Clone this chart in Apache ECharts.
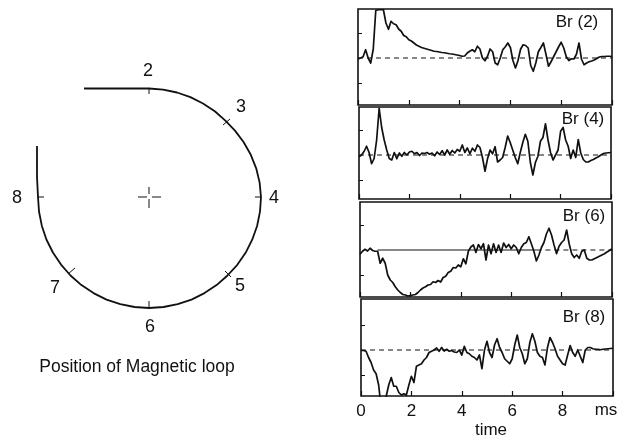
<!DOCTYPE html>
<html><head><meta charset="utf-8">
<style>html,body{margin:0;padding:0;background:#fff}#c{width:617px;height:437px}</style>
<script src="https://cdn.jsdelivr.net/npm/echarts@6/dist/echarts.min.js"></script>
</head><body><div id="c"></div>
<script>
const time=[0,.1,.2,.3,.4,.5,.6,.7,.8,.9,1,1.1,1.2,1.3,1.4,1.5,1.6,1.7,1.8,1.9,2,2.1,2.2,2.3,2.4,2.5,2.6,2.7,2.8,2.9,3,3.1,3.2,3.3,3.4,3.5,3.6,3.7,3.8,3.9,4,4.1,4.2,4.3,4.4,4.5,4.6,4.7,4.8,4.9,5,5.1,5.2,5.3,5.4,5.5,5.6,5.7,5.8,5.9,6,6.1,6.2,6.3,6.4,6.5,6.6,6.7,6.8,6.9,7,7.1,7.2,7.3,7.4,7.5,7.6,7.7,7.8,7.9,8,8.1,8.2,8.3,8.4,8.5,8.6,8.7,8.8,8.9,9,9.1,9.2,9.3,9.4,9.5,9.6,9.7,9.8,9.9,10];
const br2=[-.04,0,.05,.33,0,-.2,.35,1.9,1.93,1.93,1.93,1.4,1.15,1.47,1.37,1.33,1.16,1.07,.9,.85,.73,.68,.6,.52,.47,.42,.39,.36,.33,.3,.27,.26,.24,.22,.21,.19,.17,.16,.14,.12,.1,.07,.08,.2,.27,.33,.25,.47,.36,0,-.11,.07,.36,.25,-.2,-.27,0,.33,.45,.6,.42,-.1,-.4,-.1,.35,.53,.5,.4,-.3,-.53,-.2,.25,.42,.6,.15,-.33,-.15,.05,.25,.45,.63,.4,.05,-.1,-.03,-.04,.15,.6,-.05,-.27,-.2,-.15,-.12,-.08,-.02,.04,.06,.06,.07,.07,.06];
const br4=[-.07,0,.14,.35,.1,-.35,-.14,.6,1.87,1.1,.6,.2,-.14,-.2,.1,-.15,.08,-.05,.1,0,.12,.15,.05,.1,-.02,.08,.06,.1,.03,.08,-.03,.12,.02,.17,0,.2,.03,.18,.08,.22,.15,.4,.1,.28,.05,.27,.15,.4,.3,-.1,-.65,-.15,.2,.05,.33,-.28,-.2,-.1,.3,.76,.5,.2,-.1,-.35,.1,.5,.83,.55,-.3,-.8,-.3,-.05,.55,.7,1.25,.6,.1,-.2,0,.2,.95,1.1,.6,.35,-.14,.2,-.1,.62,.08,-.18,-.28,-.28,-.22,-.18,-.12,-.07,0,.06,.08,.09,.1];
const br6=[-.17,-.05,.03,-.04,.07,-.02,-.05,-.05,-.53,-.33,-.53,-1,-1.2,-1.3,-1.47,-1.6,-1.7,-1.78,-1.8,-1.84,-1.82,-1.8,-1.78,-1.7,-1.6,-1.52,-1.47,-1.4,-1.38,-1.27,-1.3,-1.22,-1.28,-1.1,-1.05,-.9,-.85,-.7,-.72,-.6,-.67,-.35,-.55,-.05,.12,.2,-.1,.22,.05,.25,-.4,.2,-.15,.25,-.1,.2,-.1,.28,.1,.22,.05,.2,.1,-.15,.1,.25,.3,.53,.25,-.05,-.44,-.2,.1,.3,.65,.87,.6,.2,-.15,.15,.3,.4,.8,.25,-.15,-.3,-.2,-.33,-.05,0,-.33,-.4,-.4,-.35,-.3,-.25,-.2,-.15,-.08,-.02,.05];
const br8=[-.02,-.02,-.05,-.3,-.5,-.8,-.95,-1.4,-2.3,-2.3,-1.85,-1.4,-1.1,-1.45,-1.45,-1.7,-1.8,-1.75,-1.8,-1.4,-1.05,-1.3,-.65,-.6,-.55,-.4,-.3,-.1,-.05,0,.08,-.05,.1,-.04,.03,-.05,-.02,-.08,-.1,0,-.2,.15,-.1,-.15,-.25,-.3,-.4,-.2,-.75,0,.35,-.1,-.3,.2,.45,.1,-.1,-.35,-.45,-.55,-.35,.2,.6,.1,-.15,-.55,-.35,.3,.65,.35,-.1,-.25,-.3,-.6,.1,.5,.3,.05,-.25,-.4,-.55,-.6,-.2,.18,-.1,-.25,0,-.25,-.5,0,.1,.1,.05,.03,.03,.01,.03,.04,.05,.06,.07];
const panelNames=['Br (2)','Br (4)','Br (6)','Br (8)'];
const xTickLabels=['0','2','4','6','8'];
const loopX=[-65,-30,0,14.1,28,41.4,54,65.8,76.4,86.2,94.7,101.8,107.2,110.6,112,111,108.1,103.2,96.6,88.3,78.5,67.6,55.5,42.5,28.7,14.5,0,-14.5,-28.7,-42.5,-55.5,-67.6,-78.5,-88,-96.1,-102.6,-107.2,-110,-111,-112,-112];
const loopY=[108.5,108.5,108.5,107.4,104.5,99.9,93.5,85.7,76.4,66.1,54.7,42.2,28.7,14.6,0,-14.6,-29,-42.7,-55.8,-67.8,-78.5,-88.1,-96.1,-102.6,-107.2,-110,-111,-110,-107.2,-102.6,-96.1,-88.1,-78.5,-67.6,-55.5,-42.5,-28.7,-14.5,0,20,51];
const loopTicks=[[[0,108],[0,103]],[[74,72],[81,78]],[[106,0],[112,0]],[[76,-74],[82,-80]],[[0,-104],[0,-111]],[[-81,-77],[-74,-71]],[[-111,0],[-105,0]],[[-11,0],[-2,0]],[[3,0],[12,0]],[[0,10],[0,3]],[[0,-2],[0,-11]]];

const font='"Liberation Sans",Arial,sans-serif';
const layout=[
 {top:9,bottom:105,left:358,right:612,yMin:-1.88,yMax:1.96,data:br2,label:[577,22]},
 {top:107,bottom:199,left:359,right:611,yMin:-1.76,yMax:1.92,data:br4,label:[583,119]},
 {top:202,bottom:297,left:360,right:612,yMin:-1.88,yMax:1.92,data:br6,label:[584,216]},
 {top:299,bottom:396,left:361,right:613,yMin:-1.84,yMax:2.04,data:br8,label:[584,317]}
];
const grid=[],xAxis=[],yAxis=[],series=[],graphic=[];
layout.forEach((p,i)=>{
 grid.push({left:p.left,top:p.top,width:p.right-p.left,height:p.bottom-p.top,outerBoundsMode:'none',show:true,borderColor:'#111',borderWidth:1.6,backgroundColor:'transparent'});
 xAxis.push({gridIndex:i,type:'value',min:0,max:10,interval:2,
  axisLine:{show:false,onZero:false},splitLine:{show:false},
  axisTick:{show:true,inside:true,length:5,lineStyle:{color:'#111',width:1.2}},
  axisLabel:{show:i===3,margin:7,fontFamily:font,fontSize:17,color:'#111',
    formatter:v=>xTickLabels.includes(String(v))?String(v):''},
  name:i===3?'time':'',nameLocation:'middle',nameGap:26,
  nameTextStyle:{fontFamily:font,fontSize:17,color:'#111',padding:[0,0,0,8]}});
 yAxis.push({gridIndex:i,type:'value',min:p.yMin,max:p.yMax,
  axisLine:{show:false,onZero:false},splitLine:{show:false},axisLabel:{show:false},
  axisTick:{show:true,inside:true,length:4,customValues:[-1,1],lineStyle:{color:'#111',width:1}}});
 series.push({type:'line',xAxisIndex:i,yAxisIndex:i,showSymbol:false,animation:false,clip:true,
  data:i===2?[[.7,0],[7,0]]:[[0,0],[10,0]],
  lineStyle:{color:'#111',width:1,type:i===2?'solid':[5,4]},z:1});
 if(i===2)series.push({type:'line',xAxisIndex:i,yAxisIndex:i,showSymbol:false,animation:false,
  data:[[7,0],[10,0]],lineStyle:{color:'#111',width:1,type:[5,4]},z:1});
 series.push({type:'line',xAxisIndex:i,yAxisIndex:i,showSymbol:false,animation:false,clip:true,
  data:time.map((t,k)=>[t,p.data[k]]),lineStyle:{color:'#111',width:1.7,join:'round'},z:3});
 graphic.push({type:'text',x:p.label[0],y:p.label[1],style:{text:panelNames[i],fontFamily:font,fontSize:17,fill:'#111',align:'center',verticalAlign:'middle'}});
});
// loop diagram: 1 unit = 1 pixel, origin at the cross
grid.push({left:0,top:47,width:300,height:300,show:false,outerBoundsMode:'none'});
xAxis.push({gridIndex:4,type:'value',min:-149,max:151,show:false});
yAxis.push({gridIndex:4,type:'value',min:-150,max:150,show:false});
series.push({type:'line',xAxisIndex:4,yAxisIndex:4,showSymbol:false,animation:false,clip:false,
 data:loopX.map((x,k)=>[x,loopY[k]]),lineStyle:{color:'#111',width:1.8}});
loopTicks.forEach(t=>series.push({type:'line',xAxisIndex:4,yAxisIndex:4,showSymbol:false,animation:false,clip:false,
 data:t,lineStyle:{color:'#111',width:1}}));
[['2',148,71],['3',241,107],['4',274,198],['5',240,286],['6',150,327],['7',55,288],['8',17,198]].forEach(a=>
 graphic.push({type:'text',x:a[1],y:a[2],style:{text:a[0],fontFamily:font,fontSize:18,fill:'#111',align:'center',verticalAlign:'middle'}}));
graphic.push({type:'text',x:137,y:367,style:{text:'Position of Magnetic loop',fontFamily:font,fontSize:17.5,fill:'#111',align:'center',verticalAlign:'middle'}});
graphic.push({type:'text',x:606,y:410,style:{text:'ms',fontFamily:font,fontSize:17,fill:'#111',align:'center',verticalAlign:'middle'}});
const chart=echarts.init(document.getElementById('c'),null,{renderer:'canvas'});
chart.setOption({animation:false,backgroundColor:'#fff',grid,xAxis,yAxis,series,graphic});
</script></body></html>
